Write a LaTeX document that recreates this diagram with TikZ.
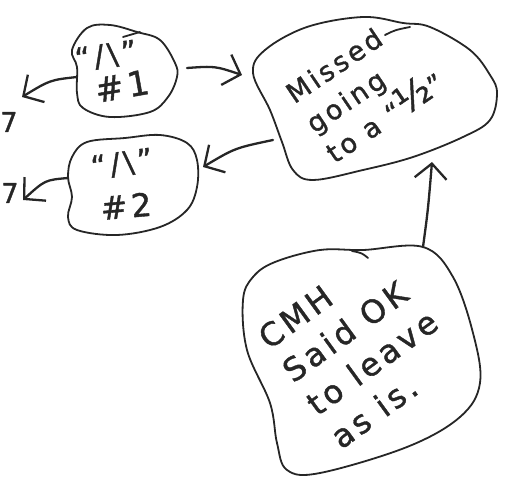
\documentclass[tikz,border=0pt]{standalone}
\usepackage{fontspec}
\setmainfont{DejaVu Sans}
\newfontfamily\hand[LetterSpace=12,FakeBold=1.2]{DejaVu Sans}
\usetikzlibrary{arrows.meta}
\begin{document}
\begin{tikzpicture}[x=1pt,y=-1pt,
  pen/.style={draw=black!85, line width=1.8pt, line join=round, line cap=round},
  link/.style={pen, line width=2.3pt,
    -{Straight Barb[length=15pt,width=32pt,line width=2.3pt]}},
  note/.style 2 args={text=black!85, inner sep=0pt, align=left,
    font=\hand\fontsize{#1}{#2}\selectfont}]
\useasboundingbox (0,0) rectangle (507,487);

% ---- bubble outlines ----
\draw[pen] plot[smooth cycle, tension=0.6] coordinates {
  (72,50) (87,28) (110,25) (137,32) (160,40) (175,63) (177,77) (168,97)
  (150,112) (110,117) (83,108) (77,93) (77,67)};
\draw[pen] (123,37) -- (140,32);

\draw[pen] plot[smooth cycle, tension=0.6] coordinates {
  (72,157) (87,142) (125,138) (160,135) (187,143) (197,160) (197,187)
  (187,210) (160,227) (117,235) (77,230) (68,217) (72,197) (68,177)};

\draw[pen] plot[smooth cycle, tension=0.6] coordinates {
  (253,73) (265,50) (307,27) (363,17) (403,23) (430,27) (470,50) (490,75)
  (497,93) (490,120) (463,137) (413,157) (363,170) (313,180) (293,170)
  (282,142) (270,110)};
\draw[pen] (385,35) .. controls (395,30) .. (410,27);

\draw[pen] plot[smooth cycle, tension=0.6] coordinates {
  (253,277) (275,262) (320,250) (363,250) (423,247) (453,277) (473,333)
  (480,383) (460,417) (407,447) (320,473) (287,470) (277,443) (270,403)
  (247,350) (243,300)};
\draw[pen] (352,251) .. controls (362,253) .. (368,258);

% ---- attachment points ----
\coordinate (b1w) at (77,77);
\coordinate (b1e) at (187,68);
\coordinate (b2w) at (68,178);
\coordinate (b3sw) at (273,140);
\coordinate (b2e) at (203,167);
\coordinate (b3s) at (432,162);
\coordinate (b4n) at (423,247);
\coordinate (out1) at (22,97);
\coordinate (out2) at (23,200);
\coordinate (b1tip) at (242,75);

% ---- connectors ----
\draw[link] (b1w) .. controls (50,80) .. (out1);
\draw[link] (b1e) .. controls (215,66) .. (b1tip);
\draw[link] (b2w) .. controls (45,180) .. (out2);
\draw[link] (b3sw) .. controls (235,148) .. (b2e);
\draw[link] (b4n) .. controls (428,210) .. (b3s);

% ---- texts ----
\node[note={30}{30}, rotate=8] (q1) at (106,56) {“/\textbackslash”};
\node[note={34}{34}, rotate=10] (n1) at (122,86) {\#1};
\node[note={30}{30}, rotate=8] (q2) at (122,164) {“/\textbackslash”};
\node[note={32}{32}, rotate=5] (n2) at (126,206) {\#2};

\node[note={27}{36}, rotate=34] (m) at (365,88)
  {Missed\\going\\to a “\scalebox{1.4}{½}”};

\node[note={32}{41}, rotate=36] (c) at (360,346)
  {CMH\\Said OK\\to leave\\as is.};

\node[note={27}{27}] (s1) at (9,122) {7};
\node[note={27}{27}] (s2) at (10,193) {7};
\end{tikzpicture}
\end{document}
